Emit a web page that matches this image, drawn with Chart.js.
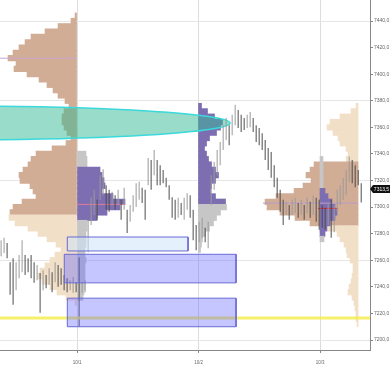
<!DOCTYPE html>
<html>
<head>
<meta charset="utf-8">
<script src="https://cdn.jsdelivr.net/npm/chart.js@4.4.1/dist/chart.umd.min.js"></script>
<style>
  html, body { margin: 0; padding: 0; background: #fff; }
  #wrap { width: 390px; height: 370px; position: relative; }
</style>
</head>
<body>
<div id="wrap"><canvas id="chart"></canvas></div>
<script>
// x axis = days counted from the 10/1 open
const dayTicks = [0, 1, 2];
const dayLabels = ['10/1', '10/2', '10/3'];
const priceTicks = [7200, 7220, 7240, 7260, 7280, 7300, 7320, 7340, 7360, 7380, 7400, 7420, 7440];
const xMin = -0.634, xMax = 2.4115;
const yMin = 7192.5, yMax = 7455.8;
const lastPrice = 7313.5;

// price bars (high / low), one every barStepDay
const barStartDay = -0.625;
const barStepDay = 0.0247;
const barHighs = [7275, 7277, 7273, 7258.5, 7261.5, 7258.5, 7264, 7275, 7264, 7261.5,
  7264, 7258.5, 7256.5, 7250.5, 7252.5, 7249, 7254, 7251, 7258.5, 7256.5,
  7254, 7249, 7246.5, 7245, 7247.5, 7243.5, 7262, 7243.5, 7245, 7290.5,
  7307.5, 7313, 7305.5, 7324, 7328.5, 7316.5, 7313, 7311.5, 7309, 7313,
  7305.5, 7314.5, 7298, 7301.5, 7309, 7318, 7319, 7314.5, 7313, 7337,
  7335.5, 7343, 7335.5, 7331.5, 7328, 7322, 7316.5, 7307.5, 7305.5, 7307,
  7303, 7307, 7310.5, 7309, 7298, 7286.5, 7289, 7292, 7284.5, 7289,
  7324, 7334, 7343, 7349, 7361.5, 7367, 7361.5, 7369.5, 7377, 7373,
  7369.5, 7367, 7369.5, 7371.5, 7367, 7361.5, 7359.5, 7355.5, 7350.5, 7344.5,
  7341.5, 7331.5, 7322, 7313, 7305.5, 7304, 7301.5, 7305.5, 7307, 7303,
  7305.5, 7301.5, 7307, 7304, 7309, 7307, 7305.5, 7301.5, 7299.5, 7303,
  7305.5, 7301.5, 7313, 7316.5, 7322, 7328, 7338, 7335.5, 7331.5, 7328,
  7318];
const barLows = [7263, 7265.5, 7261.5, 7234, 7226.5, 7237.5, 7246.5, 7251, 7249, 7251,
  7246.5, 7243, 7245, 7220.5, 7237.5, 7239, 7241.5, 7236, 7243.5, 7240,
  7241.5, 7237.5, 7236, 7237.5, 7235.5, 7236, 7210, 7235.5, 7236, 7266,
  7286.5, 7294, 7290.5, 7305.5, 7309, 7298, 7296.5, 7301.5, 7298, 7301.5,
  7290.5, 7298, 7280.5, 7289, 7296.5, 7300, 7305.5, 7303, 7290.5, 7316.5,
  7313, 7324, 7316.5, 7316.5, 7318, 7315, 7305.5, 7292, 7290.5, 7292,
  7294, 7290.5, 7298, 7292, 7275, 7267.5, 7273.5, 7276.5, 7273.5, 7269,
  7301.5, 7313, 7324, 7331.5, 7343, 7350.5, 7346.5, 7354, 7361.5, 7359.5,
  7356.5, 7358, 7359.5, 7360, 7356.5, 7349, 7346.5, 7343, 7335.5, 7328,
  7322, 7315, 7307, 7296.5, 7286.5, 7294, 7290.5, 7294, 7295.5, 7292,
  7294, 7290.5, 7295.5, 7292, 7294, 7289, 7283, 7284.5, 7283, 7286.5,
  7277, 7281, 7296.5, 7301.5, 7305.5, 7309, 7319, 7318, 7315, 7316.5,
  7303.5];

// volume profiles: rows of 4 points, listed from the top row down
const rowSize = 4;
const volumeToDays = 1 / 121.5;

const leftProfileTop = 7444;   // composite, drawn to the left of 10/1
const leftProfileVol = [2, 6, 19, 32, 46, 52, 58, 64, 69, 61, 63, 50, 38, 30, 24, 19, 12, 8, 13, 15,
  15, 13, 10, 6, 11, 25, 41, 46, 49, 54, 58, 57, 47, 44, 41, 55, 64, 67, 68, 62,
  49, 39, 30, 21, 16, 22, 27, 32, 37, 39, 35, 27, 20, 11, 2];
const leftProfileVA = [7294, 7446];

const day1ProfileTop = 7340;   // 10/1 session
const day1ProfileVol = [9, 10, 10, 23, 25, 27, 28, 25, 36, 48, 43, 30, 20, 10, 10, 9, 9, 9, 8, 8,
  9, 8, 8, 8, 8, 8, 7, 6];
const day1ProfileVA = [7290, 7330];

const day2ProfileTop = 7376;   // 10/2 session
const day2ProfileVol = [3, 9, 16, 24, 22, 18, 11, 8, 6, 8, 10, 13, 17, 20, 17, 13, 12, 17, 27, 28,
  22, 18, 15, 11, 7, 4, 3, 2];
const day2ProfileVA = [7302, 7380];

const rightProfileTop = 7376;  // composite, drawn to the left of the right edge
const rightProfileVol = [2, 7, 18, 28, 31, 25, 20, 18, 12, 10, 12, 44, 48, 52, 47, 55, 64, 82, 93, 91,
  78, 63, 48, 30, 21, 18, 14, 12, 11, 8, 5, 5, 6, 7, 9, 10, 6, 4, 3, 2, 2, 1];
const rightProfileVA = [7286, 7334];

const day3ProfileTop = 7336;   // 10/3 session
const day3ProfileVol = [3, 3, 3, 3, 3, 3, 5, 8, 12, 15, 17, 15, 10, 7, 5, 4];
const day3ProfileVA = [7278, 7314];

// point of control lines
const pocPrices = [7412, 7302, 7303, 7299];
const pocFrom = [-0.634, 0, 1.531, 1.984];
const pocTo = [0, 0.395, 2.313, 2.148];

// zones
const zoneStart = [-0.08, -0.105, -0.08];
const zoneEnd = [0.914, 1.309, 1.309];
const zoneLow = [7267, 7243, 7210];
const zoneHigh = [7277.5, 7264.5, 7231.5];
const levelPrice = 7216.5;

// ellipse marker
const ellipseDay = -1.045, ellipsePrice = 7363.3;
const ellipseHalfDays = 2.305, ellipseHalfPrice = 12.8;

const BROWN = '#d2ad96', BEIGE = '#f1dfc8', PURPLE = '#7d6eb2', GREY = '#c6c6c6';

function profile(anchor, dir, top, vols, va, inColor, outColor) {
  const data = vols.map((v, i) => ({ y: top - i * rowSize, x: [anchor, anchor + dir * v * volumeToDays] }));
  const colors = data.map(d => (d.y >= va[0] && d.y <= va[1]) ? inColor : outColor);
  return {
    type: 'bar', indexAxis: 'y', data: data, backgroundColor: colors,
    barThickness: 5.6, grouped: false, borderWidth: 0
  };
}

const ohlc = barHighs.map((h, i) => ({ x: barStartDay + i * barStepDay, y: [barLows[i], h] }));
const ohlcColors = barHighs.map((h, i) => {
  if (i === 0) return '#9a9a9a';
  return (h + barLows[i]) >= (barHighs[i - 1] + barLows[i - 1]) ? '#9a9a9a' : '#4d4d4d';
});

const lineBase = { type: 'line', pointRadius: 0, pointHoverRadius: 0, pointHitRadius: 0, tension: 0 };

const datasets = [];
zoneStart.forEach((s, i) => {
  datasets.push(Object.assign({}, lineBase, {
    label: 'zone' + i,
    data: [{x: s, y: zoneHigh[i]}, {x: zoneEnd[i], y: zoneHigh[i]}, {x: zoneEnd[i], y: zoneLow[i]},
           {x: s, y: zoneLow[i]}, {x: s, y: zoneHigh[i]}],
    fill: 'shape',
    backgroundColor: i === 0 ? 'rgba(205,228,250,0.55)' : 'rgba(95,95,255,0.36)',
    borderColor: '#6a6ad6', borderWidth: 1
  }));
});
datasets.push(Object.assign({}, lineBase, {
  label: 'level',
  data: [{x: xMin, y: levelPrice}, {x: xMax, y: levelPrice}],
  borderColor: 'rgba(244,236,70,0.8)', borderWidth: 3, fill: false
}));
datasets.push({
  type: 'bar', label: 'Price', data: ohlc, backgroundColor: ohlcColors,
  barThickness: 1, grouped: false, borderWidth: 0, inflateAmount: 0
});
const pocColors = ['#c9a6cf', '#e07a98', '#b79ccb', '#d0303f'];
pocPrices.forEach((p, i) => {
  datasets.push(Object.assign({}, lineBase, {
    label: 'poc' + i,
    data: [{x: pocFrom[i], y: p}, {x: pocTo[i], y: p}],
    borderColor: pocColors[i], borderWidth: 1, fill: false
  }));
});
datasets.push(profile(2, 1, day3ProfileTop, day3ProfileVol, day3ProfileVA, PURPLE, GREY));
datasets.push(profile(1, 1, day2ProfileTop, day2ProfileVol, day2ProfileVA, PURPLE, GREY));
datasets.push(profile(0, 1, day1ProfileTop, day1ProfileVol, day1ProfileVA, PURPLE, GREY));
datasets.push(profile(2.313, -1, rightProfileTop, rightProfileVol, rightProfileVA, BROWN, BEIGE));
datasets.push(profile(0, -1, leftProfileTop, leftProfileVol, leftProfileVA, BROWN, BEIGE));

const fmt = v => v.toFixed(1).replace('.', ',');

// ellipse goes between the profiles and the price bars; price tag on the axis
const overlay = {
  id: 'overlay',
  beforeDatasetDraw(chart, args) {
    if (chart.data.datasets[args.index].label !== 'Price') return;
    const {ctx, chartArea: a, scales: {x, y}} = chart;
    const cx = x.getPixelForValue(ellipseDay);
    const cy = y.getPixelForValue(ellipsePrice);
    const rx = x.getPixelForValue(ellipseDay + ellipseHalfDays) - cx;
    const ry = cy - y.getPixelForValue(ellipsePrice + ellipseHalfPrice);
    ctx.save();
    ctx.beginPath();
    ctx.rect(a.left, a.top, a.width, a.height);
    ctx.clip();
    ctx.beginPath();
    ctx.ellipse(cx, cy, rx, ry, 0, 0, Math.PI * 2);
    ctx.fillStyle = 'rgba(52,186,148,0.5)';
    ctx.fill();
    ctx.lineWidth = 1.5;
    ctx.strokeStyle = '#3cd9dc';
    ctx.stroke();
    ctx.restore();
  },
  afterDraw(chart) {
    const {ctx, chartArea: a, scales: {y}} = chart;
    const py = Math.round(y.getPixelForValue(lastPrice));
    ctx.save();
    ctx.fillStyle = '#111';
    ctx.beginPath();
    ctx.moveTo(a.right, py);
    ctx.lineTo(a.right + 3, py - 4);
    ctx.lineTo(chart.width, py - 4);
    ctx.lineTo(chart.width, py + 4);
    ctx.lineTo(a.right + 3, py + 4);
    ctx.closePath();
    ctx.fill();
    ctx.fillStyle = '#fff';
    ctx.font = '5px "Liberation Sans"';
    ctx.textAlign = 'center';
    ctx.textBaseline = 'middle';
    ctx.fillText(fmt(lastPrice), (a.right + 3 + chart.width) / 2, py + 0.5);
    ctx.restore();
  }
};

new Chart(document.getElementById('chart'), {
  type: 'bar',
  data: { datasets: datasets },
  plugins: [overlay],
  options: {
    responsive: true,
    maintainAspectRatio: false,
    animation: false,
    events: [],
    layout: { padding: 0, autoPadding: false },
    plugins: { legend: { display: false }, tooltip: { enabled: false } },
    scales: {
      x: {
        type: 'linear', min: xMin, max: xMax, bounds: 'data', offset: false,
        afterBuildTicks: s => { s.ticks = dayTicks.map(v => ({value: v})); },
        afterFit: s => { s.height = 20; s.paddingLeft = 0; s.paddingRight = 0; },
        grid: { color: '#dddddd', offset: false, tickLength: 3, tickColor: '#888' },
        border: { color: '#888' },
        ticks: {
          callback: v => dayLabels[dayTicks.indexOf(v)],
          font: { family: 'Liberation Sans', size: 4.5 }, color: '#666',
          padding: 7, maxRotation: 0, autoSkip: false
        }
      },
      y: {
        type: 'linear', position: 'right', min: yMin, max: yMax, bounds: 'data',
        beginAtZero: false, offset: false,
        afterBuildTicks: s => { s.ticks = priceTicks.map(v => ({value: v})); },
        afterFit: s => { s.width = 20; s.paddingTop = 0; s.paddingBottom = 0; },
        grid: {
          offset: false,
          color: c => (c.tick && c.tick.value % 60 === 0) ? '#e6e6e6' : 'rgba(0,0,0,0)',
          tickLength: 3, tickColor: '#888'
        },
        border: { color: '#888' },
        ticks: {
          callback: v => fmt(v),
          font: { family: 'Liberation Sans', size: 5 }, color: '#666',
          padding: 1, autoSkip: false
        }
      }
    }
  }
});
</script>
</body>
</html>
